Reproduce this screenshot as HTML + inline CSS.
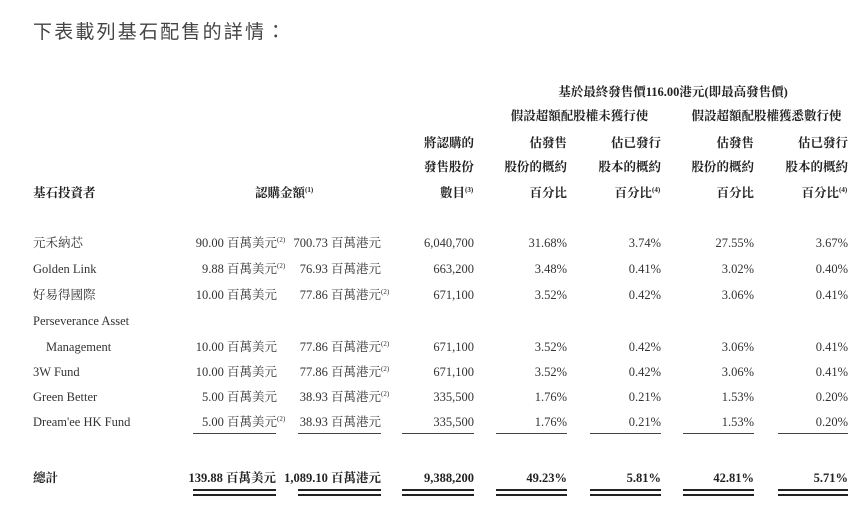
<!DOCTYPE html>
<html><head><meta charset="utf-8"><style>
body{margin:0;width:868px;height:519px;background:#fff;position:relative;overflow:hidden;font-family:"Liberation Serif","Noto Serif CJK TC",serif;color:#333;}
.t{position:absolute;font-size:12.5px;line-height:16px;white-space:nowrap;}
.r{text-align:right;}
.c{text-align:center;}
.b{font-weight:bold;color:#222;}
sup{font-size:7px;vertical-align:top;line-height:10px;display:inline-block;width:9px;text-align:left;}
.ln{position:absolute;height:1px;background:#444;}
.dl{position:absolute;height:2px;background:#222;}
</style></head><body>
<div class="t" style="left:33px;top:21px;font-size:19px;line-height:24px;letter-spacing:2.2px;font-family:'Liberation Sans','Noto Sans CJK TC',sans-serif;color:#444">下表載列基石配售的詳情：</div>

<div class="t c b" style="left:498px;width:350px;top:84px">基於最終發售價116.00港元(即最高發售價)</div>
<div class="t c b" style="left:498px;width:163px;top:108px">假設超額配股權未獲行使</div>
<div class="t c b" style="left:685px;width:163px;top:108px">假設超額配股權獲悉數行使</div>

<div class="t r b" style="left:374px;width:100px;top:135px">將認購的</div>
<div class="t r b" style="left:374px;width:100px;top:159px">發售股份</div>
<div class="t r b" style="left:374px;width:100px;top:185px">數目<sup>(3)</sup></div>
<div class="t r b" style="left:467px;width:100px;top:135px">估發售</div>
<div class="t r b" style="left:467px;width:100px;top:159px">股份的概約</div>
<div class="t r b" style="left:467px;width:100px;top:185px">百分比</div>
<div class="t r b" style="left:561px;width:100px;top:135px">估已發行</div>
<div class="t r b" style="left:561px;width:100px;top:159px">股本的概約</div>
<div class="t r b" style="left:561px;width:100px;top:185px">百分比<sup>(4)</sup></div>
<div class="t r b" style="left:654px;width:100px;top:135px">估發售</div>
<div class="t r b" style="left:654px;width:100px;top:159px">股份的概約</div>
<div class="t r b" style="left:654px;width:100px;top:185px">百分比</div>
<div class="t r b" style="left:748px;width:100px;top:135px">估已發行</div>
<div class="t r b" style="left:748px;width:100px;top:159px">股本的概約</div>
<div class="t r b" style="left:748px;width:100px;top:185px">百分比<sup>(4)</sup></div>
<div class="t b" style="left:33px;top:185px">基石投資者</div>
<div class="t b" style="left:255px;top:185px">認購金額<sup>(1)</sup></div>

<!-- rows -->
<div class="t" style="left:33px;top:235px">元禾納芯</div>
<div class="t" style="left:33px;top:261px">Golden Link</div>
<div class="t" style="left:33px;top:287px">好易得國際</div>
<div class="t" style="left:33px;top:313px">Perseverance Asset</div>
<div class="t" style="left:46px;top:339px">Management</div>
<div class="t" style="left:33px;top:364px">3W Fund</div>
<div class="t" style="left:33px;top:389px">Green Better</div>
<div class="t" style="left:33px;top:414px">Dream'ee HK Fund</div>

<div class="t r" style="left:160px;width:126px;top:235px">90.00 百萬美元<sup>(2)</sup></div>
<div class="t r" style="left:160px;width:126px;top:261px">9.88 百萬美元<sup>(2)</sup></div>
<div class="t r" style="left:160px;width:126px;top:287px">10.00 百萬美元<sup></sup></div>
<div class="t r" style="left:160px;width:126px;top:339px">10.00 百萬美元<sup></sup></div>
<div class="t r" style="left:160px;width:126px;top:364px">10.00 百萬美元<sup></sup></div>
<div class="t r" style="left:160px;width:126px;top:389px">5.00 百萬美元<sup></sup></div>
<div class="t r" style="left:160px;width:126px;top:414px">5.00 百萬美元<sup>(2)</sup></div>

<div class="t r" style="left:260px;width:130px;top:235px">700.73 百萬港元<sup></sup></div>
<div class="t r" style="left:260px;width:130px;top:261px">76.93 百萬港元<sup></sup></div>
<div class="t r" style="left:260px;width:130px;top:287px">77.86 百萬港元<sup>(2)</sup></div>
<div class="t r" style="left:260px;width:130px;top:339px">77.86 百萬港元<sup>(2)</sup></div>
<div class="t r" style="left:260px;width:130px;top:364px">77.86 百萬港元<sup>(2)</sup></div>
<div class="t r" style="left:260px;width:130px;top:389px">38.93 百萬港元<sup>(2)</sup></div>
<div class="t r" style="left:260px;width:130px;top:414px">38.93 百萬港元<sup></sup></div>

<div class="t r" style="left:374px;width:100px;top:235px">6,040,700</div>
<div class="t r" style="left:374px;width:100px;top:261px">663,200</div>
<div class="t r" style="left:374px;width:100px;top:287px">671,100</div>
<div class="t r" style="left:374px;width:100px;top:339px">671,100</div>
<div class="t r" style="left:374px;width:100px;top:364px">671,100</div>
<div class="t r" style="left:374px;width:100px;top:389px">335,500</div>
<div class="t r" style="left:374px;width:100px;top:414px">335,500</div>

<div class="t r" style="left:467px;width:100px;top:235px">31.68%</div>
<div class="t r" style="left:467px;width:100px;top:261px">3.48%</div>
<div class="t r" style="left:467px;width:100px;top:287px">3.52%</div>
<div class="t r" style="left:467px;width:100px;top:339px">3.52%</div>
<div class="t r" style="left:467px;width:100px;top:364px">3.52%</div>
<div class="t r" style="left:467px;width:100px;top:389px">1.76%</div>
<div class="t r" style="left:467px;width:100px;top:414px">1.76%</div>

<div class="t r" style="left:561px;width:100px;top:235px">3.74%</div>
<div class="t r" style="left:561px;width:100px;top:261px">0.41%</div>
<div class="t r" style="left:561px;width:100px;top:287px">0.42%</div>
<div class="t r" style="left:561px;width:100px;top:339px">0.42%</div>
<div class="t r" style="left:561px;width:100px;top:364px">0.42%</div>
<div class="t r" style="left:561px;width:100px;top:389px">0.21%</div>
<div class="t r" style="left:561px;width:100px;top:414px">0.21%</div>

<div class="t r" style="left:654px;width:100px;top:235px">27.55%</div>
<div class="t r" style="left:654px;width:100px;top:261px">3.02%</div>
<div class="t r" style="left:654px;width:100px;top:287px">3.06%</div>
<div class="t r" style="left:654px;width:100px;top:339px">3.06%</div>
<div class="t r" style="left:654px;width:100px;top:364px">3.06%</div>
<div class="t r" style="left:654px;width:100px;top:389px">1.53%</div>
<div class="t r" style="left:654px;width:100px;top:414px">1.53%</div>

<div class="t r" style="left:748px;width:100px;top:235px">3.67%</div>
<div class="t r" style="left:748px;width:100px;top:261px">0.40%</div>
<div class="t r" style="left:748px;width:100px;top:287px">0.41%</div>
<div class="t r" style="left:748px;width:100px;top:339px">0.41%</div>
<div class="t r" style="left:748px;width:100px;top:364px">0.41%</div>
<div class="t r" style="left:748px;width:100px;top:389px">0.20%</div>
<div class="t r" style="left:748px;width:100px;top:414px">0.20%</div>

<!-- single lines -->
<div class="ln" style="left:193px;width:83px;top:433px"></div>
<div class="ln" style="left:298px;width:83px;top:433px"></div>
<div class="ln" style="left:402px;width:72px;top:433px"></div>
<div class="ln" style="left:496px;width:71px;top:433px"></div>
<div class="ln" style="left:590px;width:71px;top:433px"></div>
<div class="ln" style="left:683px;width:71px;top:433px"></div>
<div class="ln" style="left:778px;width:70px;top:433px"></div>

<!-- totals -->
<div class="t b" style="left:33px;top:470px">總計</div>
<div class="t r b" style="left:160px;width:116px;top:470px">139.88 百萬美元</div>
<div class="t r b" style="left:260px;width:121px;top:470px">1,089.10 百萬港元</div>
<div class="t r b" style="left:374px;width:100px;top:470px">9,388,200</div>
<div class="t r b" style="left:467px;width:100px;top:470px">49.23%</div>
<div class="t r b" style="left:561px;width:100px;top:470px">5.81%</div>
<div class="t r b" style="left:654px;width:100px;top:470px">42.81%</div>
<div class="t r b" style="left:748px;width:100px;top:470px">5.71%</div>

<!-- double lines -->
<div class="dl" style="left:193px;width:83px;top:489px"></div><div class="dl" style="left:193px;width:83px;top:494px"></div>
<div class="dl" style="left:298px;width:83px;top:489px"></div><div class="dl" style="left:298px;width:83px;top:494px"></div>
<div class="dl" style="left:402px;width:72px;top:489px"></div><div class="dl" style="left:402px;width:72px;top:494px"></div>
<div class="dl" style="left:496px;width:71px;top:489px"></div><div class="dl" style="left:496px;width:71px;top:494px"></div>
<div class="dl" style="left:590px;width:71px;top:489px"></div><div class="dl" style="left:590px;width:71px;top:494px"></div>
<div class="dl" style="left:683px;width:71px;top:489px"></div><div class="dl" style="left:683px;width:71px;top:494px"></div>
<div class="dl" style="left:778px;width:70px;top:489px"></div><div class="dl" style="left:778px;width:70px;top:494px"></div>
</body></html>
